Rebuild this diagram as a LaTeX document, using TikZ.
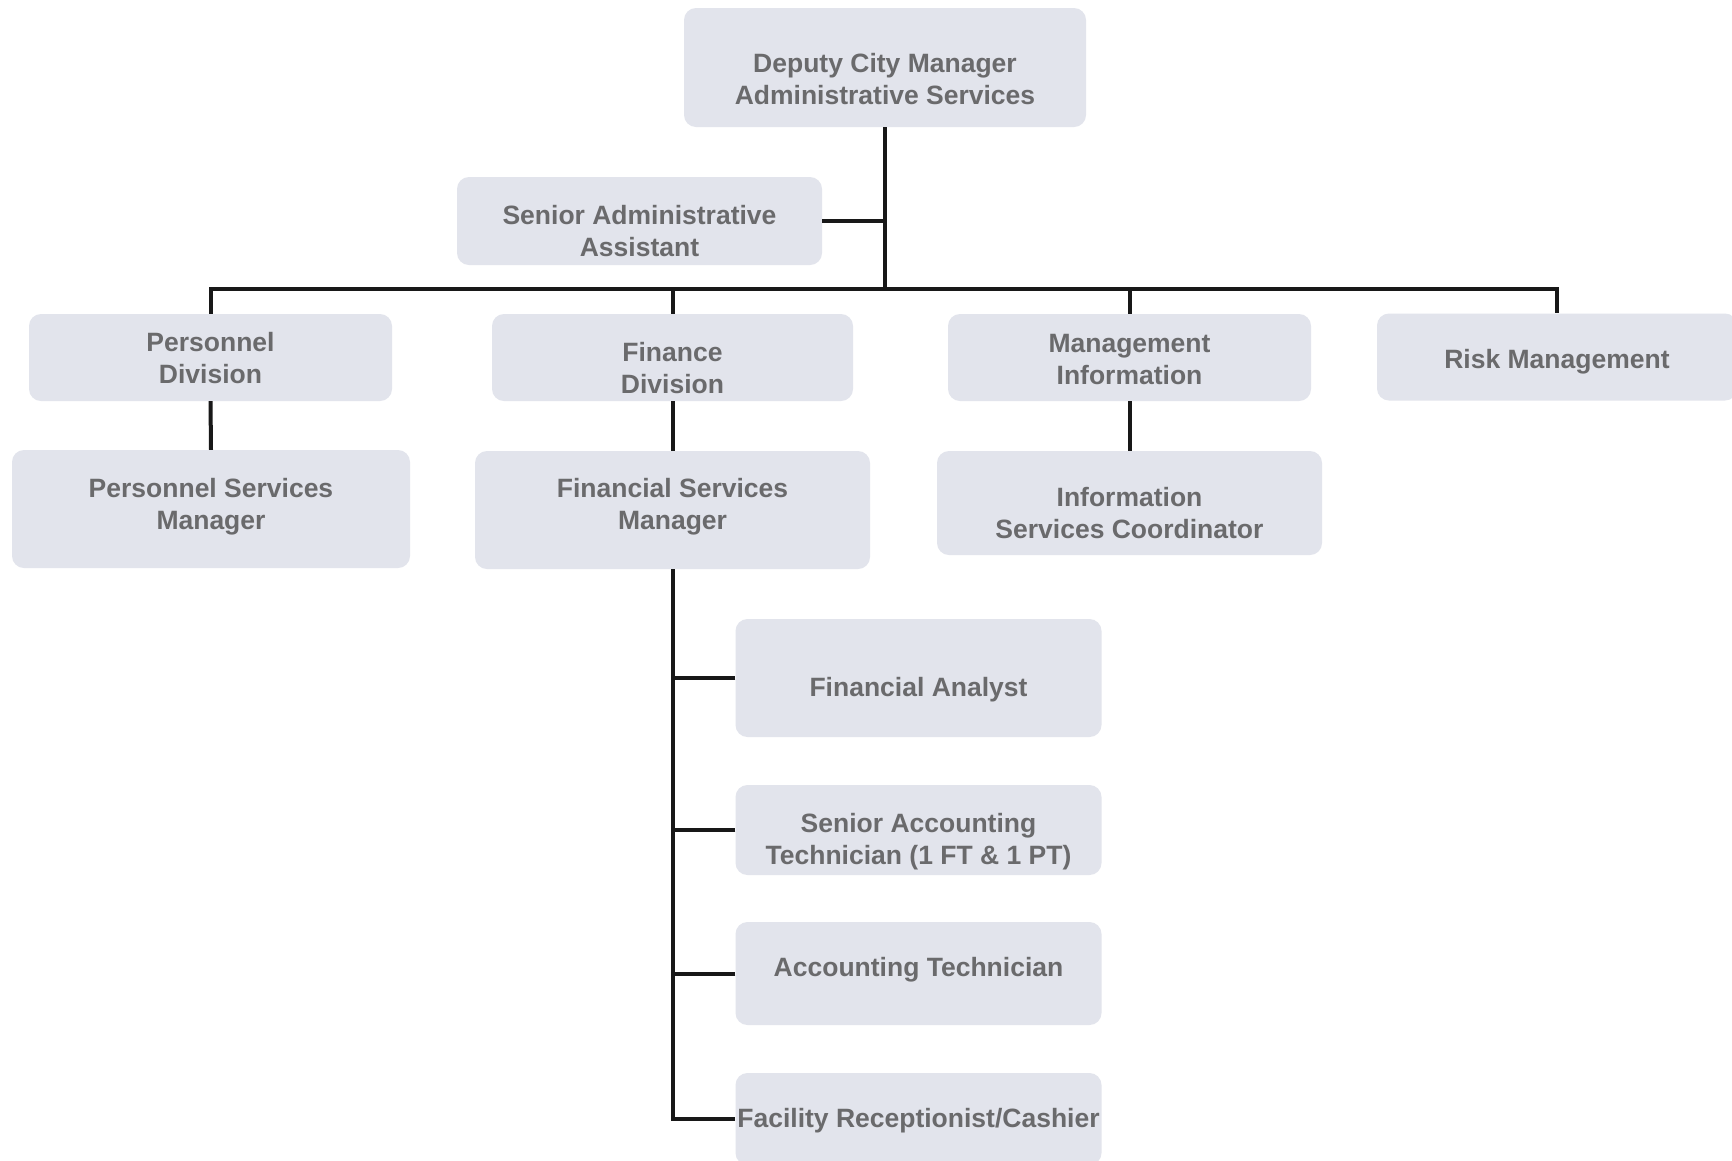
\documentclass[tikz,border=0pt]{standalone}
\usepackage{fontspec}
\setmainfont{Liberation Sans}
\definecolor{boxfill}{RGB}{226,228,236}
\definecolor{boxtext}{RGB}{106,106,108}
\definecolor{linecol}{RGB}{24,24,24}
\newcommand\orglbl[2]{\raisebox{#1}[\height][\depth]{\begin{tabular}{@{}c@{}}#2\end{tabular}}}
\begin{document}
\begin{tikzpicture}[x=1pt,y=-1pt,
  orgbox/.style={fill=boxfill, draw=none, rounded corners=12pt, align=center,
    text=boxtext, inner sep=0pt,
    font=\fontsize{26.5}{32}\selectfont\bfseries},
  link/.style={draw=linecol, line width=4pt}]
\path[use as bounding box, fill=white] (0,0) rectangle (1732,1160);
\begin{scope}
\clip (0,0) rectangle (1732,1160);
\node[orgbox, minimum width=402pt, minimum height=119pt] (top) at (885,67.5) {\orglbl{-15pt}{Deputy City Manager\\Administrative Services}};
\node[orgbox, minimum width=365pt, minimum height=88pt] (sa) at (639.5,221) {\orglbl{-13pt}{Senior Administrative\\Assistant}};
\node[orgbox, minimum width=363pt, minimum height=87pt] (pd) at (210.5,357.5) {\orglbl{-4pt}{Personnel\\Division}};
\node[orgbox, minimum width=361pt, minimum height=87pt] (fd) at (672.5,357.5) {\orglbl{-14pt}{Finance\\Division}};
\node[orgbox, minimum width=363pt, minimum height=87pt] (mi) at (1129.5,357.5) {\orglbl{-5pt}{Management\\Information}};
\node[orgbox, minimum width=360pt, minimum height=87pt] (rm) at (1557,357) {\orglbl{-5pt}{Risk Management}};
\node[orgbox, minimum width=398pt, minimum height=118pt] (psm) at (211,509) {\orglbl{2pt}{Personnel Services\\Manager}};
\node[orgbox, minimum width=395pt, minimum height=118pt] (fsm) at (672.5,510) {\orglbl{3pt}{Financial Services\\Manager}};
\node[orgbox, minimum width=385pt, minimum height=104pt] (isc) at (1129.5,503) {\orglbl{-13pt}{Information\\Services Coordinator}};
\node[orgbox, minimum width=366pt, minimum height=118pt] (fa) at (918.5,678) {\orglbl{-12pt}{Financial Analyst}};
\node[orgbox, minimum width=366pt, minimum height=90pt] (sat) at (918.5,830) {\orglbl{-12pt}{Senior Accounting\\Technician (1 FT \& 1 PT)}};
\node[orgbox, minimum width=366pt, minimum height=103pt] (at) at (918.5,973.5) {\orglbl{3pt}{Accounting Technician}};
\node[orgbox, minimum width=366pt, minimum height=92pt] (frc) at (918.5,1119) {\orglbl{-2pt}{Facility Receptionist/Cashier}};
\end{scope}
\coordinate (bus) at (885,289);
\draw[link] (top.south) -- (bus);
\draw[link] (sa.east) -- (sa.east -| top.south);
\draw[link] (pd.north) |- (bus) -| (rm.north);
\draw[link] (fd.north) -- (fd.north |- bus);
\draw[link] (mi.north) -- (mi.north |- bus);
\draw[link] (pd.south) -- (psm.north);
\draw[link] (fd.south) -- (fsm.south |- fd.south) -- (fsm.north);
\draw[link] (mi.south) -- (isc.north);
\draw[link] (fsm.south) -- (fsm.south |- frc.west) -- (frc.west);
\draw[link] (fa.west) -- (fa.west -| fsm.south);
\draw[link] (sat.west) -- (sat.west -| fsm.south);
\draw[link] (at.west) -- (at.west -| fsm.south);
\end{tikzpicture}
\end{document}
